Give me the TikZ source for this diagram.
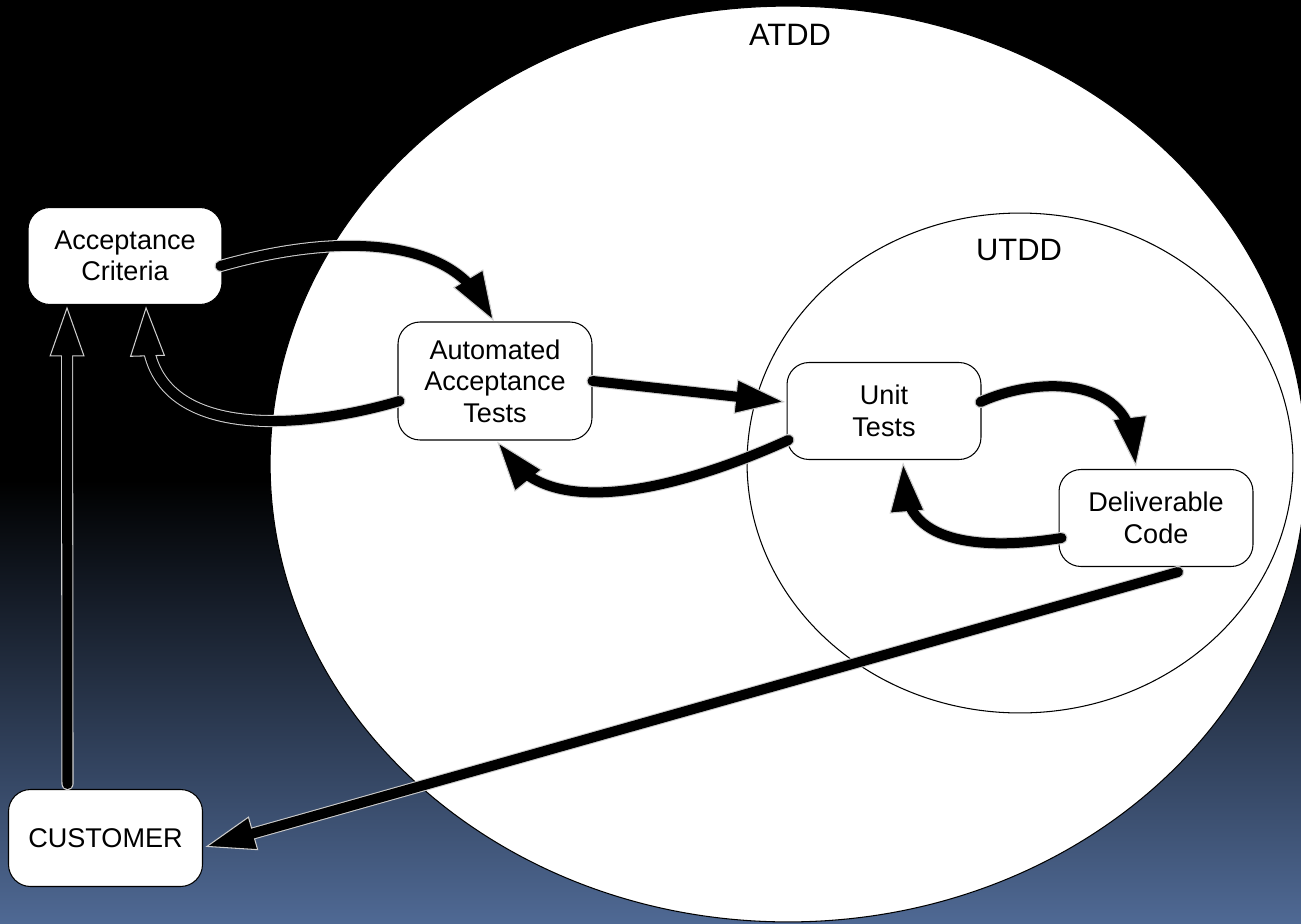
\documentclass[tikz,border=0pt]{standalone}
\usepackage{fontspec}
\setmainfont{Liberation Sans}
\usetikzlibrary{arrows.meta,calc,decorations.markings}

\definecolor{slideblue}{RGB}{79,105,148}
\definecolor{rimgray}{RGB}{205,205,205}
\pgfdeclareverticalshading{slidebg}{100bp}{color(0bp)=(slideblue); color(25bp)=(slideblue); color(49bp)=(black); color(100bp)=(black)}

% one flow arrow: light rim and head first, black shaft on top
\newcommand{\flowpath}[1]{%
  \draw[flowrim] #1;
  \draw[flowcore] #1;}

\begin{document}
\begin{tikzpicture}[x=0.02cm, y=-0.02cm]

\pgfmathsetlengthmacro{\boxWidth}{3.88cm}
\pgfmathsetlengthmacro{\boxHeight}{1.94cm}
\pgfmathsetlengthmacro{\shaftWidth}{0.2cm}
\pgfmathsetlengthmacro{\rimWidth}{\shaftWidth+1.2pt}
\pgfmathsetlengthmacro{\headLength}{1cm}
\pgfmathsetlengthmacro{\headWidth}{0.7cm}
\tikzset{
  stage/.style={draw, line width=0.6pt, fill=white, rounded corners=0.44cm, minimum width=\boxWidth, minimum height=\boxHeight, align=center, inner sep=0pt, font=\fontsize{15.4pt}{17.9pt}\selectfont},
  scopelabel/.style={inner sep=0pt, font=\fontsize{17.6pt}{20pt}\selectfont},
  flowhead/.style={decoration={markings, mark=at position -0.2pt with {\arrow{Triangle[length=\headLength, width=\headWidth, line width=0.6pt, color=rimgray, fill=black]}}}},
  flowrim/.style={draw=rimgray, line width=\rimWidth, line cap=round, shorten >=0.5cm, postaction={flowhead, decorate}},
  flowcore/.style={draw=black, line width=\shaftWidth, line cap=round, shorten >=0.5cm},
}

\useasboundingbox (0,0) rectangle (1301,923);
\shade[shading=slidebg] (0,0) rectangle (1301,923);

% scopes
\draw[fill=white, line width=0.6pt] (788,464) ellipse [x radius=10.36cm, y radius=9.16cm];
\draw[fill=white, line width=0.6pt] (1020,463) ellipse [x radius=5.46cm, y radius=5cm];
\node[scopelabel, name=atddlabel] at (790,35) {ATDD};
\node[scopelabel, name=utddlabel] at (1019,250) {UTDD};

% stages
\node[stage, name=criteria] at (125,256) {Acceptance\\Criteria};
\node[stage, name=autotests, minimum height=2.36cm] at (495,381) {Automated\\Acceptance\\Tests};
\node[stage, name=unittests] at (884,411) {Unit\\Tests};
\node[stage, name=delivcode] at (1156,518) {Deliverable\\Code};
\node[stage, name=customer] at (105.5,838) {CUSTOMER};

% outer loop
\flowpath{($(criteria.east)+(-2,10)$) .. controls +(120,-34) and +(-49,-82) .. ($(autotests.north)+(-1,0)$)}
\flowpath{($(autotests.west)+(2,20)$) .. controls +(-80,24) and +(4,144) .. ($(criteria.south)+(21,1)$)}
\flowpath{(autotests.east) -- ($(unittests.west)+(-1,-9)$)}
\flowpath{($(unittests.west)+(2,29)$) .. controls +(-99,45) and +(63,79) .. ($(autotests.south)+(2,1)$)}

% inner loop
\flowpath{($(unittests.east)+(-1,-9)$) .. controls +(60,-27) and +(-11,-88) .. ($(delivcode.north)+(-20,-2)$)}
\flowpath{($(delivcode.west)+(3,20)$) .. controls +(-62,10) and +(7,88) .. ($(unittests.south)+(19,2)$)}

% delivery and feedback
\flowpath{($(delivcode.south)+(22,5)$) -- ($(customer.east)+(2,9)$)}
\flowpath{($(customer.north)+(-38,-5)$) -- ($(criteria.south)+(-58,1)$)}

\end{tikzpicture}
\end{document}
